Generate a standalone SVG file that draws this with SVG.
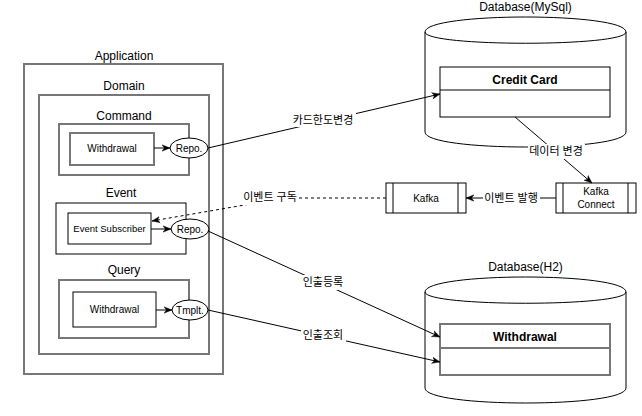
<svg xmlns="http://www.w3.org/2000/svg" width="642" height="416" viewBox="0 0 642 416">
<style>
  text { font-family: "Liberation Sans", Arial, "Noto Sans CJK KR", sans-serif; fill: #000; text-anchor: middle; }
  .t12 { font-size: 12px; }
  .t10 { font-size: 10px; }
  .b12 { font-size: 12px; font-weight: bold; }
  .kl { font-size: 11px; }
  .gray { fill: #fff; stroke: #777; stroke-width: 2; }
  .grayn { fill: none; stroke: #777; stroke-width: 2; }
  .blk { fill: #fff; stroke: #000; stroke-width: 1; }
  .blkn { fill: none; stroke: #000; stroke-width: 1; }
  .edge { fill: none; stroke: #000; stroke-width: 1; marker-end: url(#arr); }
  .dash { stroke-dasharray: 3 3; }
  .lbg { fill: #fff; stroke: none; }
</style>
<defs>
  <marker id="arr" viewBox="0 0 10 10" refX="10" refY="5" markerWidth="8" markerHeight="8" markerUnits="userSpaceOnUse" orient="auto">
    <path d="M0,1 L10,5 L0,9 L3,5 Z" fill="#000" stroke="#000" stroke-width="0.5"/>
  </marker>
</defs>
<rect width="642" height="416" fill="#fff"/>

<g id="application">
  <rect class="grayn" x="24" y="64" width="199" height="310"/>
  <text class="t12" x="124" y="60">Application</text>
</g>
<g id="domain">
  <rect class="grayn" x="39" y="95" width="170" height="259"/>
  <text class="t12" x="124" y="90">Domain</text>
</g>
<g id="command">
  <rect class="grayn" x="59" y="124" width="130" height="51"/>
  <text class="t12" x="124" y="120">Command</text>
</g>
<g id="command-withdrawal">
  <rect class="gray" x="70" y="133" width="84" height="32"/>
  <text class="t10" x="112" y="152">Withdrawal</text>
</g>
<g id="command-repo">
  <ellipse class="blk" cx="189" cy="148" rx="19" ry="10"/>
  <text class="t10" x="189" y="151.5">Repo.</text>
</g>
<g id="event">
  <rect class="blkn" x="56" y="203" width="130" height="51"/>
  <text class="t12" x="121" y="197">Event</text>
</g>
<g id="event-subscriber">
  <rect class="blk" x="68" y="213" width="83" height="31"/>
  <text x="109.5" y="232" style="font-size:9.5px">Event Subscriber</text>
</g>
<g id="event-repo">
  <ellipse class="blk" cx="190" cy="229" rx="19" ry="10"/>
  <text class="t10" x="190" y="232.5">Repo.</text>
</g>
<g id="query">
  <rect class="grayn" x="59" y="280" width="130" height="58"/>
  <text class="t12" x="124" y="274">Query</text>
</g>
<g id="query-withdrawal">
  <rect class="blk" x="73" y="292" width="83" height="35"/>
  <text class="t10" x="114.5" y="313">Withdrawal</text>
</g>
<g id="query-tmplt">
  <ellipse class="blk" cx="190" cy="310" rx="18" ry="10"/>
  <text class="t10" x="190" y="313.5">Tmplt.</text>
</g>

<g id="db-mysql">
  <text class="t12" x="525.5" y="11">Database(MySql)</text>
  <path class="blk" d="M425,32 C425,12 626,12 626,32 L626,132 C626,152 425,152 425,132 Z"/>
  <path class="blkn" d="M425,32 C425,47 626,47 626,32"/>
</g>
<g id="credit-card">
  <rect class="blk" x="440" y="67" width="170" height="50"/>
  <line class="blkn" x1="440" y1="90" x2="610" y2="90"/>
  <text class="b12" x="525" y="83.5">Credit Card</text>
</g>

<g id="kafka">
  <rect class="blk" x="386" y="183" width="80" height="30"/>
  <line class="blkn" x1="393" y1="183" x2="393" y2="213"/>
  <line class="blkn" x1="458" y1="183" x2="458" y2="213"/>
  <text class="t10" x="426" y="201.5">Kafka</text>
</g>
<g id="kafka-connect">
  <rect class="blk" x="556" y="183" width="80" height="30"/>
  <line class="blkn" x1="563" y1="183" x2="563" y2="213"/>
  <line class="blkn" x1="628" y1="183" x2="628" y2="213"/>
  <text class="t10" x="596" y="195">Kafka</text>
  <text class="t10" x="596" y="208">Connect</text>
</g>

<g id="db-h2">
  <text class="t12" x="525.5" y="271">Database(H2)</text>
  <path class="blk" d="M425,292 C425,272 626,272 626,292 L626,388 C626,408 425,408 425,388 Z"/>
  <path class="blkn" d="M425,292 C425,307 626,307 626,292"/>
</g>
<g id="h2-withdrawal">
  <rect class="gray" x="440" y="324" width="170" height="51"/>
  <line class="grayn" x1="440" y1="348" x2="610" y2="348"/>
  <text class="b12" x="525" y="340.5">Withdrawal</text>
</g>

<g id="connectors">
  <line class="edge" x1="154" y1="148" x2="170" y2="148"/>
  <line class="edge" x1="151" y1="229" x2="171" y2="229"/>
  <line class="edge" x1="156" y1="310" x2="172" y2="310"/>

  <line class="edge" x1="208" y1="148" x2="440" y2="94"/>
  <line class="edge" x1="515" y1="117" x2="592" y2="183"/>
  <line class="edge" x1="556" y1="198" x2="466" y2="198"/>
  <polyline class="edge dash" points="386,198 285,198 152,221"/>
  <line class="edge" x1="208" y1="231" x2="440" y2="337"/>
  <line class="edge" x1="208" y1="310" x2="440" y2="362"/>

  <rect class="lbg" x="290" y="112" width="66" height="15"/>
  <text class="kl" x="323" y="124">카드한도변경</text>
  <rect class="lbg" x="528" y="144" width="57" height="15"/>
  <text class="kl" x="556" y="155">데이터 변경</text>
  <rect class="lbg" x="483" y="191" width="57" height="15"/>
  <text class="kl" x="511" y="202">이벤트 발행</text>
  <rect class="lbg" x="242" y="190" width="57" height="15"/>
  <text class="kl" x="270" y="201">이벤트 구독</text>
  <rect class="lbg" x="301" y="275" width="45" height="15"/>
  <text class="kl" x="323" y="286">인출등록</text>
  <rect class="lbg" x="301" y="328" width="45" height="15"/>
  <text class="kl" x="323" y="339">인출조회</text>
</g>
</svg>
